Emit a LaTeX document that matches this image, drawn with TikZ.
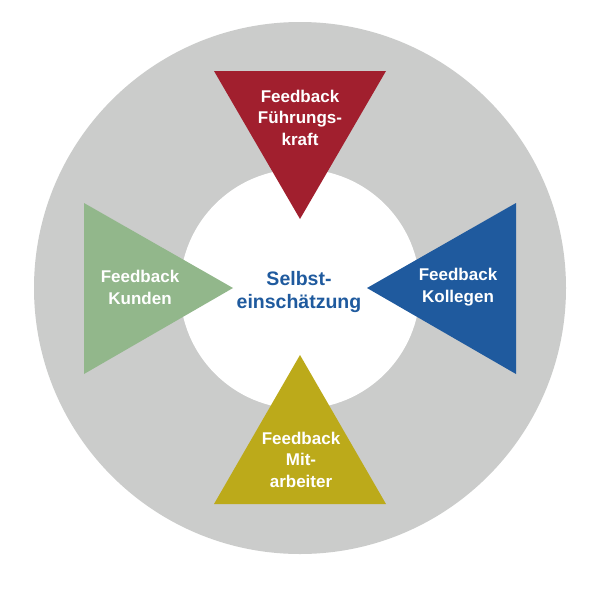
\documentclass[tikz,border=0pt]{standalone}
\usepackage{fontspec}
\setmainfont{Liberation Sans}
\definecolor{ringgray}{HTML}{CBCCCB}
\definecolor{fbred}{HTML}{A11F2E}
\definecolor{fbgreen}{HTML}{92B78B}
\definecolor{fbblue}{HTML}{1F5A9E}
\definecolor{fbyellow}{HTML}{BCAA1A}
\begin{document}
\begin{tikzpicture}[x=1pt,y=-1pt,
  lbl/.style={text=white,font=\fontsize{17}{21.5}\selectfont\bfseries,align=center,inner sep=0pt,anchor=base},
  centerlbl/.style={text=fbblue,font=\fontsize{19.5}{23}\selectfont\bfseries,align=center,inner sep=0pt,anchor=base}]
\useasboundingbox (0,0) rectangle (600,600);
\fill[white] (0,0) rectangle (600,600);
\fill[ringgray] (300,288) circle[radius=266pt];
\fill[white] (300,289) circle[radius=120pt];
\fill[fbred] (214,71) -- (386,71) -- (300,219) -- cycle;
\fill[fbgreen] (84,203) -- (84,374) -- (233,288) -- cycle;
\fill[fbblue] (516,203) -- (516,374) -- (367,288) -- cycle;
\fill[fbyellow] (214,504) -- (386,504) -- (300,355) -- cycle;
\node[lbl] (fk) at (300,145) {Feedback\\Führungs-\\kraft};
\node[lbl] (ku) at (140,304) {Feedback\\Kunden};
\node[lbl] (ko) at (458,302) {Feedback\\Kollegen};
\node[lbl] (ma) at (301,487) {Feedback\\Mit-\\arbeiter};
\node[centerlbl] (se) at (299,308) {Selbst-\\einschätzung};
\end{tikzpicture}
\end{document}
